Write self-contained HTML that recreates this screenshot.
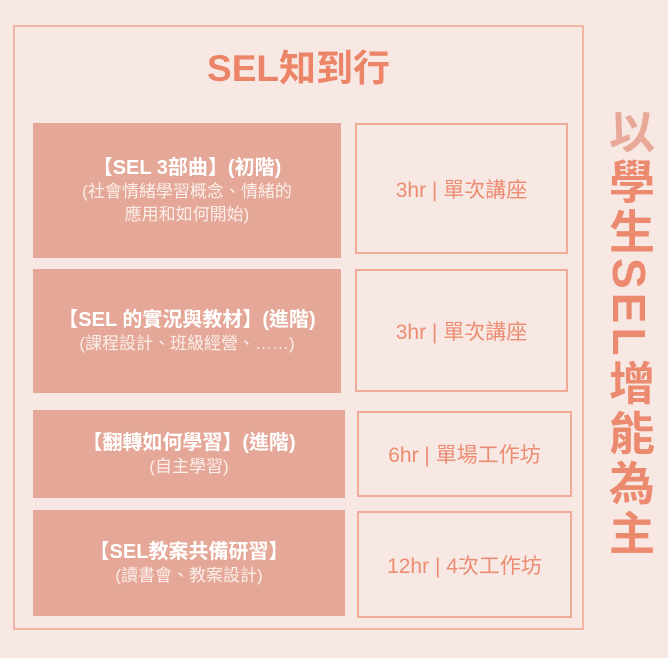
<!DOCTYPE html>
<html><head><meta charset="utf-8"><style>
*{margin:0;padding:0;box-sizing:border-box}
body{width:668px;height:658px;background:#f7e8e3;position:relative;overflow:hidden;font-family:"Liberation Sans","Noto Sans CJK TC",sans-serif}
.outer{position:absolute;left:13px;top:25px;width:571px;height:605px;border:2px solid #f2b4a3}
.title{position:absolute;left:13px;width:571px;top:38px;text-align:center;font-size:37px;font-weight:bold;color:#ec8468}
.l{position:absolute;background:#e5a797;color:#fff;text-align:center;display:flex;flex-direction:column;justify-content:center;align-items:center;line-height:1.3}
.l b{font-size:20px;font-weight:bold}
.l span{font-size:17px;color:#fbeee9}
.r{position:absolute;border:2px solid #f0ab98;color:#ec8c72;font-size:21px;display:flex;align-items:center;justify-content:center}
.v{position:absolute;left:604px;top:108px;writing-mode:vertical-rl;text-orientation:mixed;font-size:46px;font-weight:bold;color:#ec8a70;line-height:50px;letter-spacing:4px}
</style></head><body>
<div class="outer"></div>
<div class="title">SEL知到行</div>
<div class="l" style="left:33px;top:123px;width:308px;height:135px"><b>【SEL 3部曲】(初階)</b><span>(社會情緒學習概念、情緒的<br>應用和如何開始)</span></div>
<div class="r" style="left:355px;top:123px;width:213px;height:131px">3hr | 單次講座</div>
<div class="l" style="left:33px;top:269px;width:308px;height:124px"><b>【SEL 的實況與教材】(進階)</b><span>(課程設計、班級經營、……)</span></div>
<div class="r" style="left:355px;top:269px;width:213px;height:123px">3hr | 單次講座</div>
<div class="l" style="left:33px;top:410px;width:312px;height:88px"><b>【翻轉如何學習】(進階)</b><span>(自主學習)</span></div>
<div class="r" style="left:357px;top:411px;width:215px;height:86px">6hr | 單場工作坊</div>
<div class="l" style="left:33px;top:510px;width:312px;height:106px"><b>【SEL教案共備研習】</b><span>(讀書會、教案設計)</span></div>
<div class="r" style="left:357px;top:511px;width:215px;height:107px">12hr | 4次工作坊</div>
<div class="v"><span style="color:#e9a999">以</span>學生SEL增能為主</div>
</body></html>
